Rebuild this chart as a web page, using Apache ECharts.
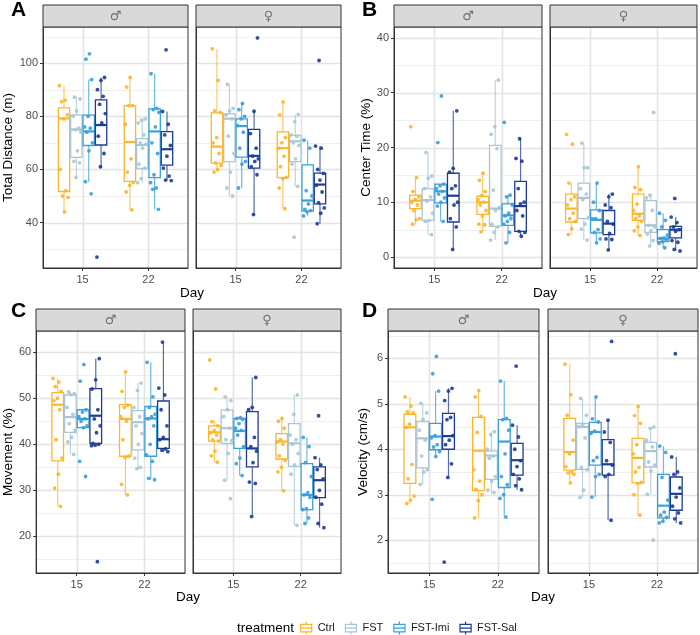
<!DOCTYPE html>
<html><head><meta charset="utf-8">
<script src="https://cdn.jsdelivr.net/npm/echarts@6/dist/echarts.min.js"></script>
<style>html,body{margin:0;padding:0;background:#fff}#c{width:700px;height:635px}</style>
</head><body><div id="c"></div>
<script>
// ---------- categories ----------
const treatments = ['Ctrl', 'FST', 'FST-Imi', 'FST-Sal'];
const days = ['15', '22'];
const sexes = ['♂', '♀'];
const colors = ['#FDB52A', '#A8C6D6', '#3A9FDA', '#1C3C95'];

// ---------- data: rows = Day15 (Ctrl,FST,FST-Imi,FST-Sal), Day22 (Ctrl,FST,FST-Imi,FST-Sal) ----------
// box rows: [lower whisker, Q1, median, Q3, upper whisker]
// A: Total Distance (m)
const distBoxM = [[44,51.7,79.2,83.2,91.5],[56.8,64.5,75,80.4,87.2],[55.4,69,74.3,80.4,93.8],[60.6,69.2,76.7,86.2,94.6],
                  [44.8,55.5,70.3,84,94.6],[55,60.4,69.2,71.6,79],[45,56.9,74.3,82.8,96],[55.8,61.6,67.6,74.2,81.8]];
const distPtsM = [[91.5,86,85.5,80.5,79,60,52,50,49.5,44],[87.2,86.5,82,80,75.5,75,74,67,63,62.5,57],
                  [103.5,101.5,93.8,80,76,75.5,74,70,67,55.4,50.8],[94.6,93.5,90,87.5,84.5,81,77.5,72.5,66,61,27],
                  [94.6,91,84,84,77,64,59,55,54,51.5,44.8],[79,78.5,77.5,73,70,69.5,68,62,60.5,56.5,55],
                  [96,83,82.5,81.5,76,70,66,58,55,53,52.5,45],[105,81.8,77,73,69,65,60.5,57.5,56,55.8]];
const distBoxF = [[58.9,62.4,68.6,81.3,105.4],[49.9,62.9,79.1,80.9,92.1],[52.9,64.6,76.3,79,84.8],[42.9,60.5,65.1,75.1,81.9],
                  [45.2,56.9,68,74.1,85.4],[53.6,62.9,70.6,72.8,80.7],[42.4,44.3,48.3,61.7,71],[39.6,47,54.3,58.6,68.8]];
const distPtsF = [[105.4,93.5,82,81.5,72,70,66,62.5,61.5,60,59],[92.1,83,82,80.5,79,72.5,66,59,53,50],
                  [84.8,82.5,80,79,76.5,74,68,63,62,53],[109.5,81.9,73.5,68,65,64,63,61,58,43],
                  [85.4,80.5,72,70,68,65,61,57,56.5,53,45.2],[80.7,78,73,72.5,70,69,64,62,53.6,34.5],
                  [71,68,52,50,47,45,44.5,44,42.5],[101,68.8,68,60,58.5,56,54,51.5,47.5,45.5,43.5,39.6]];
// B: Center Time (%)
const ctBoxM = [[5.9,8.85,10.3,11.3,14.5],[4.1,6.7,10.4,12.5,19.1],[6.5,9.9,12,13.3,13.3],[1.4,6.4,11.2,15.3,26.7],
                [4.6,7.8,10,11.1,15.3],[3.1,5.6,8.85,20.4,32.3],[2.6,5.8,7.6,9.7,11.3],[3.8,4.7,9.3,13.8,21.6]];
const ctPtsM = [[23.8,14.5,12,11,10.5,10,9.5,8.5,7,6.8,6],[19.1,14.8,14.4,12.5,11,10.2,8,6.7,6.5,4.1],
                [29.4,20.9,13.3,13,12.5,12,11.5,10.8,10,9.3,6.5],[26.7,16.2,15.5,13,12.5,10,9.5,7,5.5,1.4],
                [15.3,14,12,11.2,10.5,10,9.5,8.5,7.5,6,5.9,4.6],[32.3,23.8,22.4,19.8,12.2,9,8.5,6,5.5,4.5,3.1],
                [24.6,11.3,11,9.5,8,7.5,7,6.5,6,4.5,2.6],[21.6,18,17.5,12.5,10,9.7,8.5,7.5,4.7,4.5,3.8]];
const ctBoxF = [[4.1,6.4,8.85,11.5,13.5],[3.1,7,10.8,13.5,20.8],[2.6,4.4,6.8,8.6,13.5],[1.3,4.1,6.1,8.5,11.5],
                [3.9,6.7,7.9,11.5,16.5],[2,4.5,5.8,10.3,11.3],[1.6,2.8,3.4,5,8],[1.15,3.5,5,5.6,7.3]];
const ctPtsF = [[22.4,20.6,13.5,11,10.5,9.5,8,7,6.5,5.2,4.1],[20.8,16.3,16.3,12.5,11.5,10.5,7.2,6,5.1,3.1],
                [13.5,10,8.5,7,7,5,4.5,3.3,2.6],[11.5,11,9.5,9,6.5,6,4.3,3.3,3.2,1.3],
                [16.5,12.7,12.3,9.7,8.5,7.5,7,6.5,5.5,4.8,3.9],[26.4,11.3,10.8,8.5,5.8,5.5,4.8,4.2,3,2],
                [8,6.7,5.5,4,3.5,3.4,3.1,2.8,2.5,1.7],[10.7,7.3,6.3,5.5,5,4.7,3,2.7,1.4,1.1]];
// C: Movement (%)
const mvBoxM = [[26.5,36.4,48.6,51.2,54.3],[37.8,42.6,45.9,50.7,51.4],[43.4,43.6,45.5,47.5,47.7],[39.8,40.2,46.2,52.1,58.6],
                [29,37.4,45.5,48.6,55.7],[34.7,38.8,44.8,47.3,53.3],[32.4,37.4,45.6,48.2,57.8],[38.4,39.1,41.1,49.4,62.2]];
const mvPtsM = [[54.3,53.5,52.5,51.5,50,49.5,47.5,41,37,33.5,30.5,26.5],[51.4,51,50.8,48,46.5,44.5,43,41.5,40.5,37.8],
                [57.3,53.7,47.5,47,46,45.5,45,44,43.6,36.3,33],[58.6,54,52,47.5,45.5,44,42.5,40.2,40,39.8,39.7,14.5],
                [55.7,51.5,48.5,48,46,45,41,37.4,37.2,31.3,29],[53.3,51.7,48,46,44,42.3,40,37,35,34.7],
                [57.8,50.3,48,46.5,46,45.5,44,40,37.7,36.3,32.6,32.3],[62.2,52.2,50.7,47.5,44,41.5,41,39,38.7,38.4]];
const mvBoxF = [[36.1,40.7,42.6,44,44.9],[32.2,40.2,43.5,47.4,50.3],[33.2,39.1,42.9,45.6,45.8],[24.3,35.1,39.1,47.1,54.5],
                [29.9,36.8,40.6,42.3,45.6],[22.4,35.2,40.2,44.5,50.7],[22.8,25.8,29,35.8,41.5],[21.9,28.4,32.2,35.1,37.1]];
const mvPtsF = [[58.3,52,44.9,44,43,42.5,42,41,40.7,38.5,37.5,36.1],[50.3,49.5,47.5,46,43.5,41,40.8,38,32.2,28.2],
                [45.8,45.6,45.4,44.5,43.5,43,42,39.5,37,35.8,33.2],[54.5,48,47.5,41.5,39.5,38.5,36,31.8,31.5,24.3],
                [45.6,45,43.5,41,40.5,40,37.5,36.5,35,34,29.9],[50.7,46.5,42,41,40,38,35.5,33.5,22.4],
                [41.5,39.5,36,33,29.5,29,28.5,26,25.8,24,22.8],[46.2,37.1,35.5,34.5,32.5,30,28.5,27,22.8,21.9]];
// D: Velocity (cm/s)
const velBoxM = [[2.81,3.25,4.48,4.77,5.15],[3.23,3.59,4.24,4.61,5.01],[3.84,3.99,4.28,4.57,5.28],[3.38,4.0,4.29,4.79,5.34],
                 [2.49,3.09,3.97,4.7,5.29],[3.03,3.34,3.86,3.96,4.39],[2.51,3.16,4.17,4.65,5.5],[3.11,3.43,3.76,4.13,4.53]];
const velPtsM = [[5.15,4.95,4.82,4.8,4.55,4.48,3.67,3.35,2.97,2.88,2.81],[5.01,4.8,4.65,4.42,4.2,3.85,3.55,3.5,3.23],
                 [6.04,5.66,5.28,4.3,4.25,4.1,4.05,3.95,3.84,2.9],[5.34,5.28,5.07,4.7,4.65,4.3,4.2,4.1,3.68,3.38,1.52],
                 [5.29,5.15,4.72,4.37,3.55,3.3,3.12,3.0,2.87,2.49],[4.39,4.32,4.0,3.85,3.8,3.4,3.3,3.1,3.05],
                 [5.5,4.68,4.65,4.42,3.9,3.4,3.22,3.0,2.92,2.51],[5.83,4.53,4.27,4.0,3.75,3.62,3.45,3.35,3.2,3.11]];
const velBoxF = [[3.26,3.54,3.94,4.68,5.87],[2.94,3.56,4.49,4.57,5.12],[2.95,3.65,4.38,4.59,5.15],[2.44,3.43,3.67,4.21,4.64],
                 [2.55,3.26,3.81,4.24,4.94],[3.01,3.61,3.96,4.15,4.49],[2.38,2.49,2.76,3.45,4.07],[2.38,2.66,3.02,3.39,3.83]];
const velPtsF = [[5.87,5.2,4.75,4.2,3.9,3.62,3.5,3.48,3.45,3.26],[5.12,4.75,4.55,4.5,4.25,3.6,3.55,3.1,2.94],
                 [5.15,4.67,4.6,4.4,4.35,3.82,3.75,3.45,3.4,2.95],[6.37,4.64,4.38,4.15,3.75,3.65,3.45,3.4,2.44],
                 [4.94,4.74,4.57,4.1,3.9,3.6,3.5,3.27,3.25,3.0,2.55],[4.49,4.46,4.2,4.05,3.72,3.65,3.52,3.01,2.0],
                 [4.07,3.93,3.38,2.88,2.62,2.55,2.5,2.42,2.38],[6.1,3.83,3.5,3.45,3.15,2.95,2.75,2.6,2.47,2.38]];

// ---------- tick labels ----------
const distTicks = [40, 60, 80, 100],      distMinor = [30, 50, 70, 90, 110];
const ctTicks = [0, 10, 20, 30, 40],      ctMinor = [5, 15, 25, 35];
const mvTicks = [20, 30, 40, 50, 60],     mvMinor = [15, 25, 35, 45, 55];
const velTicks = [2, 3, 4, 5, 6],         velMinor = [1.5, 2.5, 3.5, 4.5, 5.5, 6.5];
const dayTicks = [1, 2];

// ---------- layout / styling ----------
const FONT = '"Liberation Sans", Arial, Helvetica, sans-serif';
const BOXW = 0.1875;
const XMIN = 0.4, XMAX = 2.6;
const panels = [
  { letter: 'A', title: 'Total Distance (m)', min: 22.9, max: 113.6, ticks: distTicks, minor: distMinor,
    box: [distBoxM, distBoxF], pts: [distPtsM, distPtsF],
    grids: [[43, 27, 145, 241], [196, 27, 145, 241]], stripTop: 5, nameGap: 26, letterXY: [11, 10], dayXY: [192, 293] },
  { letter: 'B', title: 'Center Time (%)', min: -2, max: 42, ticks: ctTicks, minor: ctMinor,
    box: [ctBoxM, ctBoxF], pts: [ctPtsM, ctPtsF],
    grids: [[394, 27, 148, 241], [550, 27, 147, 241]], stripTop: 5, nameGap: 21, letterXY: [362, 10], dayXY: [545, 293] },
  { letter: 'C', title: 'Movement (%)', min: 12.05, max: 64.6, ticks: mvTicks, minor: mvMinor,
    box: [mvBoxM, mvBoxF], pts: [mvPtsM, mvPtsF],
    grids: [[36, 331, 149, 242], [193, 331, 148, 242]], stripTop: 309, nameGap: 20, letterXY: [11, 311], dayXY: [188, 597] },
  { letter: 'D', title: 'Velocity (cm/s)', min: 1.28, max: 6.6, ticks: velTicks, minor: velMinor,
    box: [velBoxM, velBoxF], pts: [velPtsM, velPtsF],
    grids: [[388, 331, 151, 242], [548, 331, 150, 242]], stripTop: 309, nameGap: 18, letterXY: [362, 311], dayXY: [543, 597] }
];

function xPos(d, t) { return 1 + d + (t - 1.5) * BOXW; }
function jit(i, t, d) { const f = (i * 0.618034 + t * 0.29 + d * 0.53) % 1; return (f - 0.5) * 0.14; }

function renderBox(params, api) {
  const x = api.value(0);
  const lo = api.coord([x, api.value(1)]);
  const q1 = api.coord([x, api.value(2)]);
  const md = api.coord([x, api.value(3)]);
  const q3 = api.coord([x, api.value(4)]);
  const hi = api.coord([x, api.value(5)]);
  const w = api.size([BOXW * 0.92, 0])[0];
  const c = api.visual('color');
  return { type: 'group', children: [
    { type: 'line', shape: { x1: lo[0], y1: lo[1], x2: q1[0], y2: q1[1] }, style: { stroke: c, lineWidth: 1.2, opacity: 0.75 } },
    { type: 'line', shape: { x1: hi[0], y1: hi[1], x2: q3[0], y2: q3[1] }, style: { stroke: c, lineWidth: 1.2, opacity: 0.75 } },
    { type: 'rect', shape: { x: q3[0] - w / 2, y: q3[1], width: w, height: q1[1] - q3[1] }, style: { fill: '#fff', stroke: c, lineWidth: 1.3 } },
    { type: 'line', shape: { x1: md[0] - w / 2, y1: md[1], x2: md[0] + w / 2, y2: md[1] }, style: { stroke: c, lineWidth: 2.2 } }
  ] };
}

// grid line renderer: item = [xStart, yStart, xEnd, yEnd, minorFlag], drawn as a thin filled rect
function renderGridLine(params, api) {
  const a = api.coord([api.value(0), api.value(1)]);
  const b = api.coord([api.value(2), api.value(3)]);
  const minor = api.value(4) === 1;
  const t = minor ? 1 : 1.6;
  let shape;
  if (Math.abs(a[1] - b[1]) < 0.01) {
    const y = Math.round(a[1]);
    shape = { x: Math.min(a[0], b[0]), y: y - t / 2 + 0.5, width: Math.abs(b[0] - a[0]), height: t };
  } else {
    const x = Math.round(a[0]);
    shape = { x: x - t / 2 + 0.5, y: Math.min(a[1], b[1]), width: t, height: Math.abs(b[1] - a[1]) };
  }
  return { type: 'rect', shape, style: { fill: minor ? '#EFEFEF' : '#E4E4E4' } };
}

const grid = [], xAxis = [], yAxis = [], series = [], graphic = [];
panels.forEach((p, pi) => {
  p.grids.forEach((gd, s) => {
    const g = grid.length;
    grid.push({ left: gd[0], top: gd[1], width: gd[2], height: gd[3], show: true, borderColor: '#333', borderWidth: 1, backgroundColor: 'transparent', z: 5 });
    xAxis.push({ gridIndex: g, type: 'value', min: XMIN, max: XMAX, z: 6,
      axisLine: { show: true, onZero: false, lineStyle: { color: '#333', width: 1 } },
      axisTick: { show: true, customValues: dayTicks, length: 3, lineStyle: { color: '#333' } },
      axisLabel: { customValues: dayTicks, formatter: v => days[Math.round(v) - 1], color: '#4D4D4D', fontSize: 11, margin: 6, fontFamily: FONT },
      splitLine: { show: false } });
    yAxis.push({ gridIndex: g, type: 'value', min: p.min, max: p.max, z: 6,
      name: s === 0 ? p.title : '', nameLocation: 'middle', nameGap: p.nameGap,
      nameTextStyle: { fontSize: 13.5, color: '#000', fontFamily: FONT },
      axisLine: { show: true, onZero: false, lineStyle: { color: '#333', width: 1 } },
      axisTick: { show: s === 0, customValues: p.ticks, length: 3, lineStyle: { color: '#333' } },
      axisLabel: { show: s === 0, customValues: p.ticks, color: '#4D4D4D', fontSize: 11, margin: 5, fontFamily: FONT },
      splitLine: { show: false } });
    // panel grid lines from the tick arrays, as data-space segments through the axes
    const gl = [];
    p.minor.forEach(v => gl.push([XMIN, v, XMAX, v, 1]));
    p.ticks.forEach(v => gl.push([XMIN, v, XMAX, v, 0]));
    dayTicks.forEach(v => gl.push([v, p.min, v, p.max, 0]));
    series.push({ type: 'custom', name: 'gridlines', xAxisIndex: g, yAxisIndex: g, renderItem: renderGridLine,
      encode: { x: [0, 2], y: [1, 3] }, data: gl, z: 1, silent: true, clip: false });
    // strip
    graphic.push({ type: 'rect', shape: { x: gd[0], y: p.stripTop, width: gd[2], height: gd[1] - p.stripTop },
      style: { fill: '#D9D9D9', stroke: '#333', lineWidth: 1 }, z: 10 });
    graphic.push({ type: 'text', x: gd[0] + gd[2] / 2, y: (p.stripTop + gd[1]) / 2 + 0.5, z: 11,
      style: { text: sexes[s], fill: '#6E6E6E', fontSize: 13, fontFamily: '"DejaVu Sans", sans-serif',
        align: 'center', verticalAlign: 'middle', textAlign: 'center', textVerticalAlign: 'middle' } });
    // series
    treatments.forEach((tr, t) => {
      const boxData = days.map((dy, d) => [xPos(d, t)].concat(p.box[s][d * 4 + t]));
      series.push({ type: 'custom', name: tr, xAxisIndex: g, yAxisIndex: g, renderItem: renderBox,
        itemStyle: { color: colors[t] }, encode: { x: 0, y: [1, 2, 3, 4, 5] }, data: boxData, z: 2, silent: true });
      const ptData = [];
      days.forEach((dy, d) => {
        p.pts[s][d * 4 + t].forEach((v, i) => ptData.push([xPos(d, t) + jit(i, t, d), v]));
      });
      series.push({ type: 'scatter', name: tr, xAxisIndex: g, yAxisIndex: g, symbolSize: 3.8,
        itemStyle: { color: colors[t], opacity: 0.9 }, data: ptData, z: 3, silent: true });
    });
  });
  graphic.push({ type: 'text', x: p.letterXY[0], y: p.letterXY[1], z: 11,
    style: { text: p.letter, fill: '#000', fontSize: 21, fontWeight: 'bold', fontFamily: FONT,
      align: 'left', verticalAlign: 'middle', textAlign: 'left', textVerticalAlign: 'middle' } });
  graphic.push({ type: 'text', x: p.dayXY[0], y: p.dayXY[1], z: 11,
    style: { text: 'Day', fill: '#000', fontSize: 13.5, fontFamily: FONT,
      align: 'center', verticalAlign: 'middle', textAlign: 'center', textVerticalAlign: 'middle' } });
});
graphic.push({ type: 'text', x: 237, y: 628, z: 11,
  style: { text: 'treatment', fill: '#000', fontSize: 13.5, fontFamily: FONT,
    align: 'left', verticalAlign: 'middle', textAlign: 'left', textVerticalAlign: 'middle' } });

const boxIcon = 'path://M6,0L6,3M0,3L12,3L12,11L0,11ZM0,7L12,7M6,11L6,14';
const chart = echarts.init(document.getElementById('c'), null, { renderer: 'canvas' });
chart.setOption({
  animation: false,
  backgroundColor: '#fff',
  textStyle: { fontFamily: FONT },
  grid, xAxis, yAxis, series, graphic,
  legend: {
    left: 300, top: 621, orient: 'horizontal', itemWidth: 13, itemHeight: 13, itemGap: 10, padding: 0,
    selectedMode: false,
    textStyle: { fontSize: 11, color: '#1A1A1A', fontFamily: FONT },
    data: treatments.map((tr, t) => ({ name: tr, icon: boxIcon,
      itemStyle: { color: 'rgba(0,0,0,0)', borderColor: colors[t], borderWidth: 1.2 } }))
  }
});
</script>
</body></html>
